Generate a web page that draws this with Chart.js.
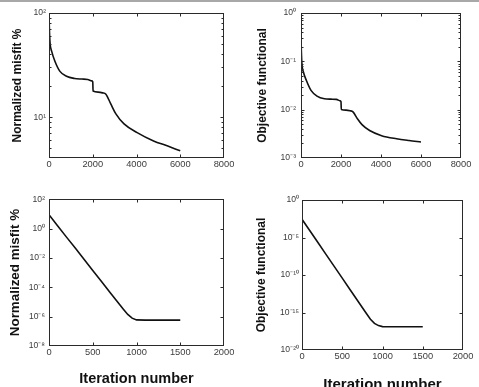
<!DOCTYPE html>
<html>
<head>
<meta charset="utf-8">
<script src="https://cdn.jsdelivr.net/npm/chart.js@4.4.1/dist/chart.umd.min.js"></script>
<style>
    html, body { margin: 0; padding: 0; background: #fff; overflow: hidden; width: 479px; height: 387px; }
    #topRule { position: absolute; left: 0; top: 0; width: 479px; height: 2px; background: #a8a8a8; }
    canvas { position: absolute; }
</style>
</head>
<body>
<div id="topRule"></div>
<canvas id="misfitLong" width="240" height="190" style="left:0;top:0"></canvas>
<canvas id="objectiveLong" width="239" height="190" style="left:240px;top:0"></canvas>
<canvas id="misfitShort" width="240" height="197" style="left:0;top:190px"></canvas>
<canvas id="objectiveShort" width="239" height="205" style="left:240px;top:190px"></canvas>
<script>
// Convergence histories, values

// Long run (top row)
const longIters = [0, 20, 50, 120, 270, 500, 800, 1170, 1500, 1770, 1960, 2000, 2015, 2250, 2450, 2600, 2830, 3050, 3430, 4030, 4780, 5400, 6000];
const longMisfit = [98, 68, 51, 43, 34.4, 27.5, 24.7, 23.5, 23.2, 23.0, 22.3, 21.9, 17.8, 17.4, 17.1, 16.6, 13.3, 10.8, 8.6, 7.1, 5.9, 5.3, 4.75];
const longObjective = [0.3, 0.15, 0.085, 0.06, 0.04, 0.025, 0.019, 0.0168, 0.0165, 0.0163, 0.0152, 0.0146, 0.0101, 0.0098, 0.0095, 0.0090, 0.0064, 0.0049, 0.0037, 0.0029, 0.0025, 0.0023, 0.00215];

// Short run (bottom row)
const shortIters = [0, 100, 200, 300, 400, 500, 600, 700, 800, 850, 900, 950, 1000, 1100, 1300, 1500];
const shortMisfit = [8.7, 1.5, 0.26, 0.047, 0.0081, 1.4e-3, 2.5e-4, 4.3e-5, 7.5e-6, 3.2e-6, 1.4e-6, 7.9e-7, 6.0e-7, 5.8e-7, 5.8e-7, 5.8e-7];
const shortObjective = [2.7e-3, 7.2e-5, 1.95e-6, 5.2e-8, 1.4e-9, 3.8e-11, 1.0e-12, 2.75e-14, 7.4e-16, 1.26e-16, 3.5e-17, 1.8e-17, 1.3e-17, 1.26e-17, 1.26e-17, 1.26e-17];

// Tick values
const longIterTicks = [0, 2000, 4000, 6000, 8000];
const shortIterTicks = [0, 500, 1000, 1500, 2000];
const longMisfitTicks = [10, 100];
const longObjectiveTicks = [1e-3, 1e-2, 1e-1, 1];
const shortMisfitTicks = [1e-8, 1e-6, 1e-4, 1e-2, 1, 100];
const shortObjectiveTicks = [1e-20, 1e-15, 1e-10, 1e-5, 1];

const FONT = "'Liberation Sans', Arial, Helvetica, sans-serif";
const TICK_COLOR = '#3c3c3c';
const SUP = { '-': '\u207B', '0': '\u2070', '1': '\u00B9', '2': '\u00B2', '3': '\u00B3', '4': '\u2074',
              '5': '\u2075', '6': '\u2076', '7': '\u2077', '8': '\u2078', '9': '\u2079' };

function powerLabel(value) {
    const exp = Math.round(Math.log10(value));
    return '10' + String(exp).split('').map(c => SUP[c]).join('');
}

// MATLAB style box with inward ticks
const boxPlugin = {
    id: 'matlabBox',
    afterDraw(chart, args, opts) {
        const { ctx, chartArea: a, scales: { x, y } } = chart;
        const l = Math.round(a.left) + 0.5, r = Math.round(a.right) - 0.5;
        const t = Math.round(a.top) + 0.5, b = Math.round(a.bottom) - 0.5;
        const clampX = v => Math.min(r, Math.max(l, v));
        const clampY = v => Math.min(b, Math.max(t, v));
        ctx.save();
        ctx.strokeStyle = '#2a2a2a';
        ctx.lineWidth = 1;
        ctx.strokeRect(l, t, r - l, b - t);
        ctx.beginPath();
        x.ticks.forEach(tick => {
            const px = clampX(Math.round(x.getPixelForValue(tick.value)) + 0.5);
            ctx.moveTo(px, b); ctx.lineTo(px, b - 3);
            ctx.moveTo(px, t); ctx.lineTo(px, t + 3);
        });
        y.ticks.forEach(tick => {
            const py = clampY(Math.round(y.getPixelForValue(tick.value)) + 0.5);
            ctx.moveTo(l, py); ctx.lineTo(l + 3, py);
            ctx.moveTo(r, py); ctx.lineTo(r - 3, py);
        });
        if (opts.minor) {
            const lo = Math.floor(Math.log10(y.min)), hi = Math.ceil(Math.log10(y.max));
            for (let d = lo; d < hi; d++) {
                for (let k = 2; k <= 9; k++) {
                    const v = k * Math.pow(10, d);
                    if (v < y.min || v > y.max) continue;
                    const py = Math.round(y.getPixelForValue(v)) + 0.5;
                    ctx.moveTo(l, py); ctx.lineTo(l + 2, py);
                    ctx.moveTo(r, py); ctx.lineTo(r - 2, py);
                }
            }
        }
        ctx.stroke();
        ctx.restore();
    }
};

function makePanel(cfg) {
    const ctx = document.getElementById(cfg.canvasId);
    const points = cfg.xs.map((x, i) => ({ x: x, y: cfg.ys[i] }));

    const xScale = {
        type: 'linear',
        min: 0,
        max: cfg.xTicks[cfg.xTicks.length - 1],
        afterBuildTicks: s => { s.ticks = cfg.xTicks.map(v => ({ value: v })); },
        afterFit: s => { s.height = cfg.xHeight; },
        grid: { display: false, drawTicks: false },
        border: { display: false },
        ticks: {
            color: TICK_COLOR,
            font: { family: FONT, size: 9.3 },
            padding: 1,
            maxRotation: 0,
            autoSkip: false,
            callback: v => String(v)
        },
        title: {
            display: !!cfg.xTitle,
            text: cfg.xTitle || '',
            color: '#111',
            font: { family: FONT, size: cfg.xTitleSize || 14, weight: 'bold' },
            padding: { top: 0, bottom: cfg.xTitlePad || 0 }
        }
    };

    const yScale = {
        type: 'logarithmic',
        min: cfg.yMin,
        max: cfg.yMax,
        afterBuildTicks: s => { s.ticks = cfg.yTicks.map(v => ({ value: v })); },
        afterFit: s => { s.width = cfg.yWidth; },
        grid: { display: false, drawTicks: false },
        border: { display: false },
        ticks: {
            color: TICK_COLOR,
            font: { family: FONT, size: 8.6 },
            padding: cfg.yTickPad,
            autoSkip: false,
            callback: v => powerLabel(v)
        },
        title: {
            display: true,
            text: cfg.yTitle,
            color: '#111',
            font: { family: FONT, size: cfg.yTitleSize, weight: 'bold' },
            padding: { top: cfg.yTitlePad, bottom: 0 }
        }
    };

    new Chart(ctx, {
        type: 'line',
        data: {
            datasets: [{
                data: points,
                borderColor: '#111',
                borderWidth: 1.6,
                pointRadius: 0,
                fill: false,
                tension: 0,
                cubicInterpolationMode: cfg.smooth ? 'monotone' : 'default'
            }]
        },
        options: {
            responsive: false,
            animation: false,
            layout: { padding: cfg.padding },
            plugins: {
                legend: { display: false },
                tooltip: { enabled: false },
                matlabBox: { minor: !!cfg.minor }
            },
            scales: { x: xScale, y: yScale }
        },
        plugins: [boxPlugin]
    });
}

document.addEventListener('DOMContentLoaded', () => {
    makePanel({
        canvasId: 'misfitLong', xs: longIters, ys: longMisfit, smooth: true, minor: true,
        xTicks: longIterTicks, yTicks: longMisfitTicks, yMin: 4.05, yMax: 100,
        yTitle: 'Normalized misfit %', yTitleSize: 12, yTitlePad: 10,
        yWidth: 49, yTickPad: 3, xHeight: 32,
        padding: { left: 0, right: 16, top: 13, bottom: 0 }
    });
    makePanel({
        canvasId: 'objectiveLong', xs: longIters, ys: longObjective, smooth: true, minor: true,
        xTicks: longIterTicks, yTicks: longObjectiveTicks, yMin: 1e-3, yMax: 1,
        yTitle: 'Objective functional', yTitleSize: 12, yTitlePad: 15,
        yWidth: 61, yTickPad: 5, xHeight: 32,
        padding: { left: 0, right: 18, top: 13, bottom: 0 }
    });
    makePanel({
        canvasId: 'misfitShort', xs: shortIters, ys: shortMisfit, smooth: false,
        xTicks: shortIterTicks, yTicks: shortMisfitTicks, yMin: 1e-8, yMax: 100,
        yTitle: 'Normalized misfit %', yTitleSize: 13.4, yTitlePad: 7,
        yWidth: 49, yTickPad: 4, xHeight: 41,
        xTitle: 'Iteration number', xTitleSize: 14.5, xTitlePad: -1,
        padding: { left: 0, right: 16, top: 8, bottom: 0 }
    });
    makePanel({
        canvasId: 'objectiveShort', xs: shortIters, ys: shortObjective, smooth: false,
        xTicks: shortIterTicks, yTicks: shortObjectiveTicks, yMin: 1e-20, yMax: 1,
        yTitle: 'Objective functional', yTitleSize: 12, yTitlePad: 14,
        yWidth: 62, yTickPad: 3, xHeight: 45,
        xTitle: 'Iteration number', xTitleSize: 15, xTitlePad: 1,
        padding: { left: 0, right: 16, top: 10, bottom: 0 }
    });
});
</script>
</body>
</html>
